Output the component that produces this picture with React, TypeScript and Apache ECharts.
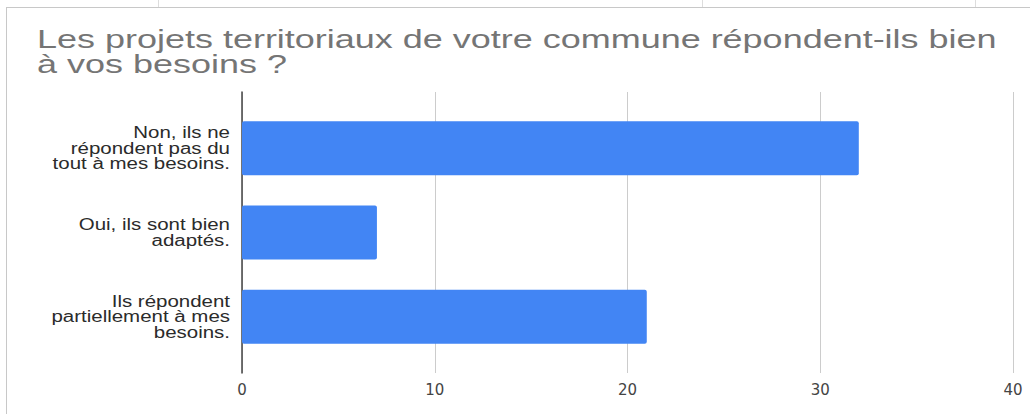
import React, { useEffect, useRef } from "react";
import * as echarts from "echarts";

const titleLines = [
  "Les projets territoriaux de votre commune répondent-ils bien",
  "à vos besoins ?",
];
const categories = [
  "Non, ils ne\nrépondent pas du\ntout à mes besoins.",
  "Oui, ils sont bien\nadaptés.",
  "Ils répondent\npartiellement à mes\nbesoins.",
];
const values = [32, 7, 21];
const axisMin = 0;
const axisMax = 40;
const axisInterval = 10;

const FONT = "'Liberation Sans', Arial, sans-serif";

export default function App() {
  const ref = useRef<HTMLDivElement>(null);
  useEffect(() => {
    if (!ref.current) return;
    const chart = echarts.init(ref.current, null, { renderer: "svg" });
    const frame: any[] = [
      { id: "f1", type: "line", shape: { x1: 6, y1: 7.5, x2: 1030, y2: 7.5 }, style: { stroke: "#c8c8c8", lineWidth: 1 } },
      { id: "f2", type: "line", shape: { x1: 6.5, y1: 7, x2: 6.5, y2: 414 }, style: { stroke: "#c8c8c8", lineWidth: 1 } },
      { id: "f3", type: "line", shape: { x1: 158.5, y1: 0, x2: 158.5, y2: 7 }, style: { stroke: "#dddddd", lineWidth: 1 } },
      { id: "f4", type: "line", shape: { x1: 702.5, y1: 0, x2: 702.5, y2: 7 }, style: { stroke: "#dddddd", lineWidth: 1 } },
      { id: "f5", type: "line", shape: { x1: 975.5, y1: 0, x2: 975.5, y2: 7 }, style: { stroke: "#dddddd", lineWidth: 1 } },
      ...titleLines.map((t, i) => ({
        id: "t" + i,
        type: "text",
        x: 37,
        y: 39 + i * 25,
        scaleX: 1.384,
        style: {
          text: t,
          fontFamily: FONT,
          fontSize: 26,
          fill: "#757575",
          verticalAlign: "middle",
          align: "left",
        },
      })),
    ];
    const option: any = {
      animation: false,
      backgroundColor: "#ffffff",
      graphic: frame,
      grid: [
        { left: 242, right: 17, top: 92, bottom: 41 },
        { left: 242, right: 17, top: 106, bottom: 55 },
      ],
      xAxis: [
        {
          gridIndex: 0,
          type: "value",
          min: axisMin,
          max: axisMax,
          interval: axisInterval,
          axisLine: { show: false },
          axisTick: { show: false },
          splitLine: { show: true, lineStyle: { color: "#cccccc", width: 1 } },
          axisLabel: {
            color: "#444444",
            fontSize: 15,
            fontFamily: "'DejaVu Sans', sans-serif",
            margin: 9,
          },
        },
        {
          gridIndex: 1,
          type: "value",
          min: axisMin,
          max: axisMax,
          show: false,
        },
      ],
      yAxis: [
        {
          gridIndex: 0,
          type: "value",
          min: 0,
          max: 1,
          axisLine: { show: true, lineStyle: { color: "#444444", width: 1.5 } },
          axisTick: { show: false },
          axisLabel: { show: false },
          splitLine: { show: false },
        },
        {
          gridIndex: 1,
          type: "category",
          inverse: true,
          data: categories,
          axisLine: { show: false },
          axisTick: { show: false },
          splitLine: { show: false },
          axisLabel: { show: false },
        },
      ],
      series: [
        {
          type: "bar",
          xAxisIndex: 1,
          yAxisIndex: 1,
          data: values,
          barWidth: 54,
          itemStyle: { color: "#4285F4", borderRadius: 2 },
          z: 1,
        },
      ],
    };
    chart.setOption(option);

    // Category labels, positioned through the category axis scale
    const labelX = (chart.convertToPixel({ xAxisIndex: 1 }, axisMin) as number) - 12;
    const labels = categories.map((c, i) => ({
      id: "c" + i,
      type: "text",
      x: labelX,
      y: chart.convertToPixel({ yAxisIndex: 1 }, i) as number,
      scaleX: 1.28,
      style: {
        text: c,
        fontFamily: FONT,
        fontSize: 16,
        lineHeight: 15.5,
        fill: "#2b2b2b",
        align: "right",
        verticalAlign: "middle",
      },
    }));
    chart.setOption({ graphic: [...frame, ...labels] });
    return () => chart.dispose();
  }, []);
  return (
    <div
      ref={ref}
      style={{ position: "fixed", left: 0, top: 0, width: 1030, height: 414 }}
    />
  );
}
